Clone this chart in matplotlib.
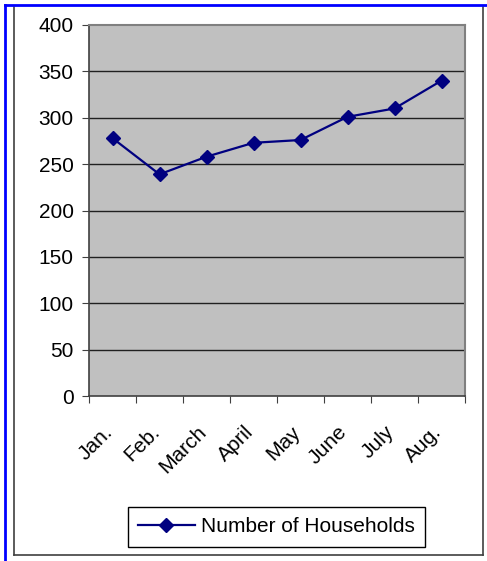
import matplotlib
matplotlib.use("Agg")
import matplotlib.pyplot as plt
from matplotlib.lines import Line2D

months = ['Jan.', 'Feb.', 'March', 'April', 'May', 'June', 'July', 'Aug.']
households = [278, 239, 258, 273, 276, 301, 310, 340]
yticks = [0, 50, 100, 150, 200, 250, 300, 350, 400]

plt.rcParams['font.family'] = ['Liberation Sans', 'DejaVu Sans']

fig = plt.figure(figsize=(4.87, 5.61), dpi=100)
fig.patch.set_facecolor('white')

# outer frame (black) and blue selection lines
fig.add_artist(Line2D([14/487, 14/487], [1 - 7/561, 1 - 555/561], color='#404040', lw=1.2))
fig.add_artist(Line2D([483/487, 483/487], [1 - 7/561, 1 - 555/561], color='#404040', lw=1.2))
fig.add_artist(Line2D([14/487, 483/487], [1 - 555/561, 1 - 555/561], color='#404040', lw=1.2))
fig.add_artist(Line2D([5/487, 1], [1 - 5/561, 1 - 5/561], color='#0000ff', lw=2))
fig.add_artist(Line2D([5/487, 5/487], [1 - 5/561, 0], color='#0000ff', lw=2))

ax = fig.add_axes([89/487, 1 - 396/561, 376/487, 371/561])
ax.set_facecolor('#c0c0c0')

x = list(range(len(months)))
ax.plot(x, households, color='#000080', lw=1.6, marker='D', markersize=7,
        label='Number of Households', zorder=3)

ax.set_xlim(-0.5, len(months) - 0.5)
ax.set_ylim(0, 400)
ax.set_yticks(yticks)
for v in yticks[1:-1]:
    ax.axhline(v, color='#202020', lw=1.0, zorder=1)

# ticks at category boundaries, labels slightly left of category centres
ax.set_xticks([i - 0.5 for i in range(len(months) + 1)])
ax.set_xticklabels([])
ax.set_xticks([i - 0.21 for i in x], minor=True)
ax.set_xticklabels(months, minor=True, rotation=45, ha='right', rotation_mode='anchor')
ax.tick_params(axis='x', which='minor', length=0, pad=19, labelsize=15)
ax.tick_params(axis='x', which='major', length=5, color='#404040')
ax.tick_params(axis='y', length=5, color='#404040', labelsize=15, pad=6)

for side in ['top', 'right']:
    ax.spines[side].set_color('#808080')
    ax.spines[side].set_linewidth(1.5)
for side in ['left', 'bottom']:
    ax.spines[side].set_color('#404040')
    ax.spines[side].set_linewidth(1.2)

leg = fig.legend(loc='center', bbox_to_anchor=(276.5/487, 1 - 527/561),
                 fancybox=False, edgecolor='black', framealpha=1,
                 fontsize=15, handlelength=2.7, handletextpad=0.3, borderpad=0.5)
leg.get_frame().set_linewidth(1.0)

fig.savefig('out.png', dpi=100)
